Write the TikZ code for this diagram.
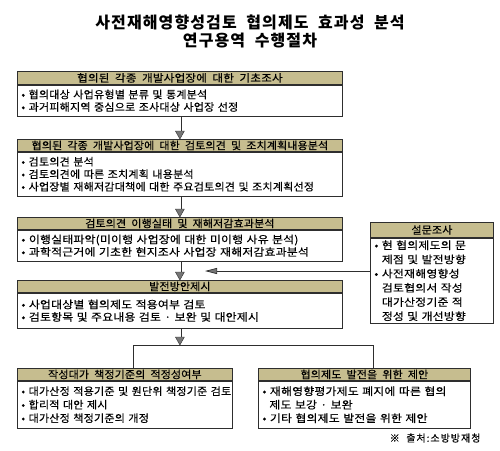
\documentclass[tikz,border=0pt]{standalone}
\usepackage{fontspec}
\setmainfont{Noto Sans CJK KR}[WordSpace=2, FakeBold=0.4]
\newfontfamily\fntTitle{Noto Sans CJK KR}[WordSpace=2, LetterSpace=7]
\newfontfamily\fntH{Noto Sans CJK KR}[WordSpace=2, FakeBold=0.4, FakeStretch=1.05, LetterSpace=1]
\newfontfamily\fntHw{Noto Sans CJK KR}[WordSpace=2, FakeBold=0.4, FakeStretch=1.10, LetterSpace=2]
\newfontfamily\fntF{Noto Sans CJK KR}[WordSpace=1.6, FakeBold=0.4, FakeStretch=1.05, LetterSpace=2]
\newfontfamily\fntG{Noto Sans CJK KR}[WordSpace=1.6, FakeBold=0.4, FakeStretch=1.13, LetterSpace=2]
\newfontfamily\fntD{Noto Sans CJK KR}[WordSpace=2, FakeBold=0.4, FakeStretch=1.12, LetterSpace=3]
\newfontfamily\fntE{Noto Sans CJK KR}[WordSpace=2, FakeBold=0.4, LetterSpace=10]
\usetikzlibrary{arrows.meta}
\definecolor{hdrfill}{HTML}{C6BD8F}
\definecolor{edge}{HTML}{2E2E2E}
\definecolor{headgray}{HTML}{767676}
\newcommand{\sline}[2]{\makebox[#1pt][s]{#2}}
\tikzset{
  hdr/.style={draw=edge, line width=0.8pt, fill=hdrfill, anchor=north west, inner sep=0pt,
    font=\fntH\fontsize{10.5}{12}\selectfont},
  bodybox/.style={draw=edge, line width=0.8pt, fill=white, anchor=north west, inner xsep=4pt, inner ysep=0pt,
    align=left, font=\fntF\fontsize{10.5}{12.5}\selectfont},
  widebody/.style={font=\fntG\fontsize{10.5}{12.5}\selectfont},
  dshaft/.style={draw=edge, double=white, double distance=3pt, line width=0.45pt, shorten >=7pt},
  headst/.style={fill=headgray, draw=edge, line width=0.4pt},
  plainline/.style={draw=edge, line width=0.7pt},
  harrow/.style={draw=edge, line width=0.7pt, -{Triangle[length=12pt,width=6pt,fill=headgray,color=edge]}},
  titletext/.style={font=\fntTitle\bfseries\fontsize{16}{18}\selectfont},
}
\newcommand{\downhead}[1]{\filldraw[headst] (#1) -- ++(-4.5,-8) -- ++(9,0) -- cycle;}
\begin{document}
\begin{tikzpicture}[x=1pt,y=-1pt]
\useasboundingbox (0,0) rectangle (500,450);
% title
\node[titletext] (t1) at (250,22) {사전재해영향성검토 협의제도 효과성 분석};
\node[titletext] (t2) at (250,41) {연구용역 수행절차};

% box 1
\node[hdr, minimum width=325pt, minimum height=13pt, font=\fntHw\fontsize{10.5}{12}\selectfont] (h1) at (17,71) {협의된 각종 개발사업장에 대한 기초조사};
\node[bodybox, minimum width=325pt, minimum height=31pt, text width=317pt] (b1) at (h1.south west)
 {\sline{221}{• 협의대상 사업유형별 분류 및 통계분석}\\\sline{254}{• 과거피해지역 중심으로 조사대상 사업장 선정}};

% box 2
\node[hdr, minimum width=325pt, minimum height=12pt] (h2) at (17,139) {협의된 각종 개발사업장에 대한 검토의견 및 조치계획내용분석};
\node[bodybox, minimum width=325pt, minimum height=44pt, text width=317pt] (b2) at (h2.south west)
 {\sline{85}{• 검토의견 분석}\\\sline{192}{• 검토의견에 따른 조치계획 내용분석}\\\sline{302}{• 사업장별 재해저감대책에 대한 주요검토의견 및 조치계획선정}};

% box 3
\node[hdr, minimum width=325pt, minimum height=12pt] (h3) at (17,217) {검토의견 이행실태 및 재해저감효과분석};
\node[bodybox, widebody, minimum width=325pt, minimum height=31pt, text width=317pt] (b3) at (h3.south west)
 {\sline{304}{• 이행실태파악(미이행 사업장에 대한 미이행 사유 분석)}\\\sline{315}{• 과학적근거에 기초한 현지조사 사업장 재해저감효과분석}};

% box 4
\node[hdr, minimum width=325pt, minimum height=12pt] (h4) at (17,280) {발전방안제시};
\node[bodybox, widebody, minimum width=325pt, minimum height=35pt, text width=317pt] (b4) at (h4.south west)
 {\sline{201}{• 사업대상별 협의제도 적용여부 검토}\\\sline{259}{• 검토항목 및 주요내용 검토 · 보완 및 대안제시}};

% survey box
\node[hdr, minimum width=123pt, minimum height=15pt] (hs) at (370,222) {설문조사};
\node[bodybox, minimum width=123pt, minimum height=85pt, text width=115pt, font=\fntD\fontsize{10.5}{14.2}\selectfont] (bs) at (hs.south west)
 {• 현 협의제도의 문\\\phantom{• }제점 및 발전방향\\• 사전재해영향성\\\phantom{• }검토협의서 작성\\\phantom{• }대가산정기준 적\\\phantom{• }정성 및 개선방향};

% box 5
\node[hdr, minimum width=215pt, minimum height=12pt] (h5) at (17,368) {작성대가 책정기준의 적정성여부};
\node[bodybox, minimum width=215pt, minimum height=47pt, text width=207pt, font=\fntF\fontsize{10.5}{13.5}\selectfont] (b5) at (h5.south west)
 {\sline{205}{• 대가산정 적용기준 및 원단위 책정기준 검토}\\\sline{99}{• 합리적 대안 제시}\\\sline{149}{• 대가산정 책정기준의 개정}};

% box 6
\node[hdr, minimum width=212pt, minimum height=12pt] (h6) at (258,368) {협의제도 발전을 위한 제안};
\node[bodybox, minimum width=212pt, minimum height=47pt, text width=204pt, font=\fntG\fontsize{10.5}{13.5}\selectfont] (b6) at (h6.south west)
 {\sline{201}{• 재해영향평가제도 폐지에 따른 협의}\\\hspace*{7pt}\sline{95}{제도 보강 · 보완}\\\sline{186}{• 기타 협의제도 발전을 위한 제안}};

% footnote
\node[anchor=east, font=\fntE\fontsize{10}{11}\selectfont] (src) at (484,438) {※ 출처:소방방재청};

% vertical double arrows
\draw[dshaft] (b1.south) -- (h2.north);
\downhead{h2.north}
\draw[dshaft] (b2.south) -- (h3.north);
\downhead{h3.north}
\draw[dshaft] (b3.south) -- (h4.north);
\downhead{h4.north}

% split
\coordinate (split) at (b4.south |- 0,345);
\coordinate (sl) at (133,345);
\coordinate (sr) at (373,345);
\draw[dshaft] (b4.south) -- (split);
\downhead{split}
\draw[plainline] (sl) -- (sr);
\draw[plainline] (sl) -- (sl |- h5.north);
\draw[plainline] (sr) -- (sr |- h6.north);

% survey feedback arrow
\coordinate (svw) at (bs.west |- 0,271);
\coordinate (fbtip) at (205,271);
\draw[harrow] (svw) -- (fbtip);
\end{tikzpicture}
\end{document}
